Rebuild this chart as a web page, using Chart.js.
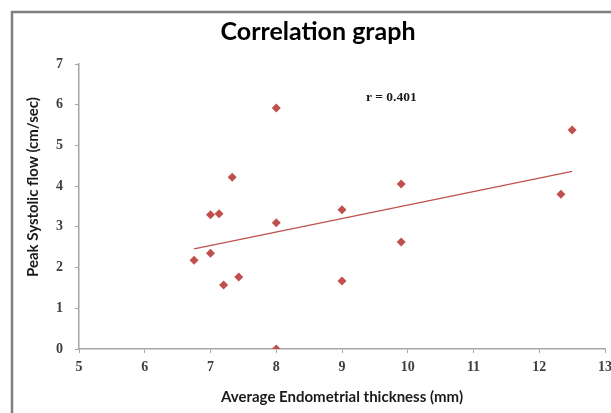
<!DOCTYPE html>
<html>
<head>
<meta charset="utf-8">
<script src="https://cdn.jsdelivr.net/npm/chart.js@4/dist/chart.umd.min.js"></script>
<style>
  html, body { margin: 0; padding: 0; background: #fff; }
  canvas { display: block; }
</style>
</head>
<body>
<canvas id="corr" width="611" height="413"></canvas>
<script>
// Correlation graph — endometrial thickness vs peak systolic flow
const thickness = [6.75, 7.0, 7.0, 7.13, 7.33, 7.2, 7.43, 8.0, 8.0, 8.0, 9.0, 9.0, 9.9, 9.9, 12.33, 12.5];
const systolic  = [2.18, 2.35, 3.30, 3.32, 4.22, 1.57, 1.77, 5.92, 3.10, 0.0, 3.42, 1.67, 4.05, 2.63, 3.80, 5.38];
const trendX = [6.75, 12.5];
const trendY = [2.46, 4.36];
const xTicks = [5, 6, 7, 8, 9, 10, 11, 12, 13];
const yTicks = [0, 1, 2, 3, 4, 5, 6, 7];
const rLabel = 'r = 0.401';
const rAt = [9.75, 6.18];

const RED = '#c0504d';
const AXIS = '#a6a6a6';

const pts = thickness.map((x, i) => ({ x, y: systolic[i] }));
const trend = trendX.map((x, i) => ({ x, y: trendY[i] }));

// frame, title, y title and the r label
const extras = {
  id: 'extras',
  beforeDraw(chart) {
    const ctx = chart.ctx;
    ctx.save();
    ctx.fillStyle = '#fff';
    ctx.fillRect(0, 0, chart.width, chart.height);
    ctx.strokeStyle = '#7f7f7f';
    ctx.lineWidth = 2.5;
    ctx.strokeRect(12, 12, 700, 500);
    ctx.restore();
  },
  afterDraw(chart) {
    const ctx = chart.ctx;
    ctx.save();
    ctx.fillStyle = '#000';
    ctx.font = 'bold 25px Lato';
    ctx.textAlign = 'center';
    ctx.textBaseline = 'middle';
    ctx.fillText('Correlation graph', 318, 32);
    ctx.restore();

    ctx.save();
    ctx.fillStyle = '#1a1a1a';
    ctx.font = 'bold 15px Lato';
    ctx.textAlign = 'center';
    ctx.textBaseline = 'middle';
    ctx.translate(33, 187);
    ctx.rotate(-Math.PI / 2);
    ctx.fillText('Peak Systolic flow (cm/sec)', 0, 0);
    ctx.restore();

    const xs = chart.scales.x, ys = chart.scales.y;
    ctx.save();
    ctx.fillStyle = '#1a1a1a';
    ctx.font = 'bold 13.5px "Liberation Serif"';
    ctx.textAlign = 'center';
    ctx.textBaseline = 'middle';
    ctx.fillText(rLabel, xs.getPixelForValue(rAt[0]), ys.getPixelForValue(rAt[1]));
    ctx.restore();
  }
};

new Chart(document.getElementById('corr'), {
  type: 'scatter',
  data: {
    datasets: [
      {
        label: 'Observations',
        data: pts,
        pointStyle: 'rectRot',
        pointRadius: 4.5,
        pointHoverRadius: 4.5,
        backgroundColor: RED,
        borderColor: RED,
        borderWidth: 0,
      },
      {
        label: 'Trend',
        data: trend,
        showLine: true,
        pointRadius: 0,
        borderColor: RED,
        borderWidth: 1.3,
        fill: false,
      }
    ]
  },
  options: {
    responsive: false,
    animation: false,
    devicePixelRatio: 1,
    layout: { padding: { left: 14, right: 6, top: 64, bottom: 0 } },
    plugins: {
      legend: { display: false },
      tooltip: { enabled: false },
      title: { display: false }
    },
    scales: {
      x: {
        type: 'linear',
        min: 5, max: 13,
        afterBuildTicks: s => { s.ticks = xTicks.map(v => ({ value: v })); },
        afterFit: s => { s.height = 64; s.paddingLeft = 0; s.paddingRight = 0; },
        grid: { drawOnChartArea: false, drawTicks: true, tickLength: 4, color: AXIS },
        border: { color: AXIS, width: 1.5 },
        ticks: {
          color: '#404040',
          padding: 6,
          font: { family: 'Liberation Serif', size: 14, weight: 'bold' },
        },
        title: {
          display: true,
          text: 'Average Endometrial thickness (mm)',
          color: '#1a1a1a',
          font: { family: 'Lato', size: 15, weight: 'bold' },
          padding: { top: 0, bottom: 7 },
        }
      },
      y: {
        min: 0, max: 7,
        afterBuildTicks: s => { s.ticks = yTicks.map(v => ({ value: v })); },
        afterFit: s => { s.width = 65; s.paddingTop = 0; s.paddingBottom = 0; },
        grid: { drawOnChartArea: false, drawTicks: true, tickLength: 4, color: AXIS },
        border: { color: AXIS, width: 1.5 },
        ticks: {
          color: '#404040',
          padding: 12,
          font: { family: 'Liberation Serif', size: 14, weight: 'bold' },
        }
      }
    }
  },
  plugins: [extras]
});
</script>
</body>
</html>
